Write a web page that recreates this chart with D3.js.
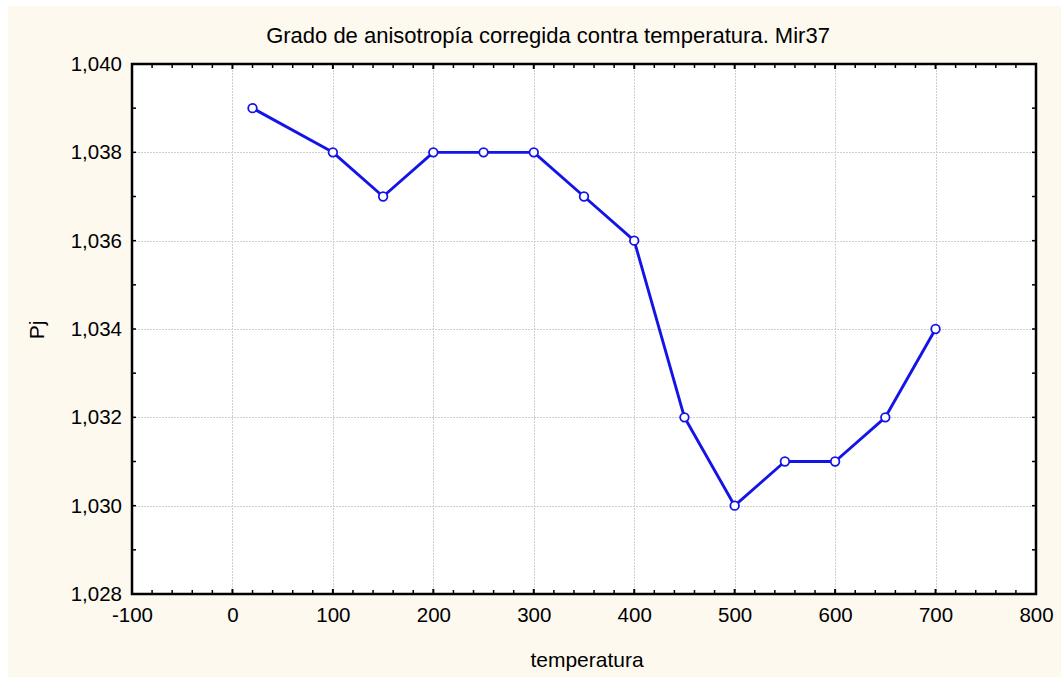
<!DOCTYPE html>
<html>
<head>
<meta charset="utf-8">
<script src="https://cdn.jsdelivr.net/npm/d3@7"></script>
<style>
  html, body { margin: 0; padding: 0; background: #ffffff; }
  svg { display: block; font-family: "Liberation Sans", Arial, sans-serif; }
</style>
</head>
<body>
<svg id="chart" width="1061" height="677"></svg>
<script>
// Temperature steps and corrected anisotropy degree (Pj)
const temperatures = [20, 100, 150, 200, 250, 300, 350, 400, 450, 500, 550, 600, 650, 700];
const pjValues = [1.039, 1.038, 1.037, 1.038, 1.038, 1.038, 1.037, 1.036, 1.032, 1.030, 1.031, 1.031, 1.032, 1.034];
const xTicks = [-100, 0, 100, 200, 300, 400, 500, 600, 700, 800];
const yTicks = [1.028, 1.030, 1.032, 1.034, 1.036, 1.038, 1.040];
const titleText = "Grado de anisotropía corregida contra temperatura. Mir37";
const xLabel = "temperatura";
const yLabel = "Pj";

const svg = d3.select("#chart");
const W = 1061, H = 677;
const m = { left: 132, right: 1036, top: 64, bottom: 594 };
const FONT = "Liberation Sans, Arial, sans-serif";

// panel background
svg.append("rect").attr("x", 8).attr("y", 6).attr("width", W - 8).attr("height", H - 6)
  .attr("fill", "#fdf9ef");
svg.append("rect").attr("x", m.left).attr("y", m.top)
  .attr("width", m.right - m.left).attr("height", m.bottom - m.top).attr("fill", "#ffffff");

const x = d3.scaleLinear().domain([-100, 800]).range([m.left, m.right]);
const y = d3.scaleLinear().domain([1.028, 1.040]).range([m.bottom, m.top]);
const fmt = v => d3.format(".3f")(v).replace(".", ",");

// grid
const grid = svg.append("g").attr("stroke", "#cfcfcf").attr("stroke-width", 1)
  .attr("stroke-dasharray", "2,1");
grid.selectAll(".gx").data(xTicks.slice(1, -1)).join("line")
  .attr("x1", d => Math.round(x(d)) + 0.5).attr("x2", d => Math.round(x(d)) + 0.5)
  .attr("y1", m.top).attr("y2", m.bottom);
grid.selectAll(".gy").data(yTicks.slice(1, -1)).join("line")
  .attr("y1", d => Math.round(y(d)) + 0.5).attr("y2", d => Math.round(y(d)) + 0.5)
  .attr("x1", m.left).attr("x2", m.right);

// axes: labels via d3 axes, inward ticks drawn separately
const xAxis = d3.axisBottom(x).tickValues(xTicks).tickSize(0).tickPadding(13).tickFormat(d => String(d));
const gx = svg.append("g").attr("transform", `translate(0,${m.bottom})`).call(xAxis);
gx.select(".domain").remove();
gx.selectAll("text").attr("font-size", 20.5).attr("fill", "#000").attr("font-family", FONT);

const yAxis = d3.axisLeft(y).tickValues(yTicks).tickSize(0).tickPadding(10).tickFormat(fmt);
const gy = svg.append("g").attr("transform", `translate(${m.left},0)`).call(yAxis);
gy.select(".domain").remove();
gy.selectAll("text").attr("font-size", 20.5).attr("fill", "#000").attr("font-family", FONT);

// inward tick marks on all four sides
const ticks = svg.append("g").attr("stroke", "#000");
const xMinor = d3.range(-80, 800, 20);
const yMinor = d3.range(1.029, 1.0395, 0.001);
[m.bottom, m.top].forEach((yy, i) => {
  const dir = i === 0 ? -1 : 1;
  ticks.selectAll(null).data(xMinor).join("line")
    .attr("x1", d => x(d)).attr("x2", d => x(d))
    .attr("y1", yy).attr("y2", d => yy + dir * (d % 100 === 0 ? 5 : 4))
    .attr("stroke-width", d => d % 100 === 0 ? 2 : 1.5);
});
[m.left, m.right].forEach((xx, i) => {
  const dir = i === 0 ? 1 : -1;
  ticks.selectAll(null).data(yMinor).join("line")
    .attr("y1", d => y(d)).attr("y2", d => y(d))
    .attr("x1", xx).attr("x2", xx + dir * 4)
    .attr("stroke-width", 1.5);
});

// frame
svg.append("rect").attr("x", m.left).attr("y", m.top)
  .attr("width", m.right - m.left).attr("height", m.bottom - m.top)
  .attr("fill", "none").attr("stroke", "#000").attr("stroke-width", 2.5);

// series
const pts = temperatures.map((t, i) => [t, pjValues[i]]);
svg.append("path").datum(pts)
  .attr("fill", "none").attr("stroke", "#1414e6").attr("stroke-width", 2.9)
  .attr("stroke-linejoin", "round")
  .attr("d", d3.line().x(d => x(d[0])).y(d => y(d[1])));
svg.append("g").selectAll("circle").data(pts).join("circle")
  .attr("cx", d => x(d[0])).attr("cy", d => y(d[1])).attr("r", 4.3)
  .attr("fill", "#fff").attr("stroke", "#1414e6").attr("stroke-width", 1.8);

// titles
svg.append("text").attr("x", 548).attr("y", 43).attr("text-anchor", "middle")
  .attr("font-size", 22).text(titleText);
svg.append("text").attr("x", 587).attr("y", 667).attr("text-anchor", "middle")
  .attr("font-size", 21).text(xLabel);
svg.append("text").attr("transform", "translate(44,330) rotate(-90)").attr("text-anchor", "middle")
  .attr("font-size", 21).text(yLabel);
</script>
</body>
</html>
